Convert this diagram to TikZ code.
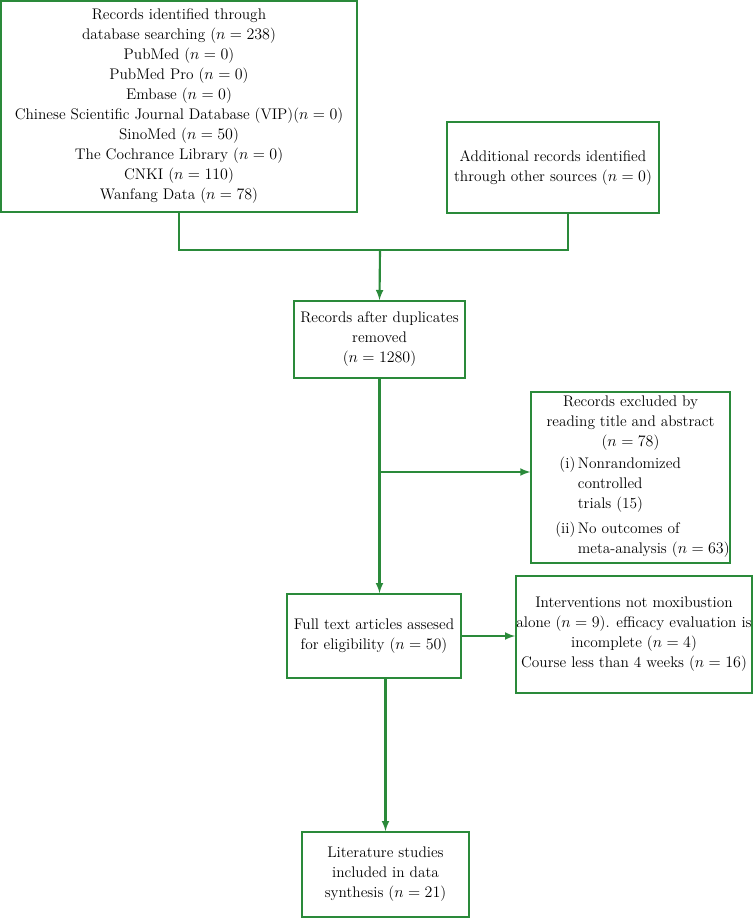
\documentclass[tikz,border=0pt]{standalone}
\usepackage{tikz}
\usetikzlibrary{arrows, positioning}
\definecolor{pgreen}{HTML}{2A8A3A}
\tikzstyle{record} = [rectangle, draw = pgreen, line width = 1.3pt, align = center, inner sep = 0pt, text = black, font = \fontsize{11.5}{15}\selectfont]
\tikzstyle{arrowline} = [draw = pgreen, line width = 1.6pt, ->, >=latex]
\tikzstyle{mergeline} = [draw = pgreen, line width = 1.3pt]

\begin{document}
\begin{tikzpicture}[x=0.75pt, y=-0.75pt]
  \useasboundingbox (0,0) rectangle (753,918);
  \node (db) [record, minimum width = 356*0.75pt, minimum height = 211*0.75pt] at (179,106.5) {Records identified through\\database searching ($n = 238$)\\PubMed ($n = 0$)\\PubMed Pro ($n = 0$)\\Embase ($n = 0$)\\Chinese Scientific Journal Database (VIP)($n = 0$)\\SinoMed ($n = 50$)\\The Cochrance Library ($n = 0$)\\CNKI ($n = 110$)\\Wanfang Data ($n = 78$)};
  \node (other) [record, minimum width = 212*0.75pt, minimum height = 91*0.75pt] at (553,167.5) {Additional records identified\\through other sources ($n = 0$)};
  \node (dup) [record, minimum width = 171*0.75pt, minimum height = 77*0.75pt] at (379.5,339.5) {Records after duplicates\\removed\\($n = 1280$)};
  \coordinate (merge) at (380,250);
  \draw [mergeline] (db.south) |- (merge) -| ([xshift = 15*0.75pt]other.south);
  \draw [arrowline] (merge) -- (dup.north);
  \node (excl) [record, minimum width = 195*0.75pt, minimum height = 171*0.75pt] at (630.5,477.5) {Records excluded by\\reading title and abstract\\($n = 78$)\\[2pt]\hspace*{18pt}\begin{tabular}{@{}r@{\,}l@{}}(i) & Nonrandomized\\ & controlled\\ & trials (15)\\[4pt] (ii) & No outcomes of\\ & meta-analysis ($n = 63$)\end{tabular}};
  \node (full) [record, minimum width = 174*0.75pt, minimum height = 84*0.75pt] at (374,636) {Full text articles assesed\\for eligibility ($n = 50$)};
  \node (inel) [record, minimum width = 236*0.75pt, minimum height = 117*0.75pt] at (634,634.5) {Interventions not moxibustion\\alone ($n = 9$). efficacy evaluation is\\incomplete ($n = 4$)\\Course less than 4 weeks ($n = 16$)};
  \node (incl) [record, minimum width = 167*0.75pt, minimum height = 85*0.75pt] at (385.5,874.5) {Literature studies\\included in data\\synthesis ($n = 21$)};
  \draw [arrowline] (dup.south) -- (dup.south |- full.north);
  \draw [arrowline] (dup.south |- excl.west) ++(0,-5.5) -- ([yshift = 5.5*0.75pt]excl.west);
  \draw [arrowline] (full.east) -- (full.east -| inel.west);
  \draw [arrowline] (full.south -| incl.north) -- (incl.north);
\end{tikzpicture}
\end{document}
